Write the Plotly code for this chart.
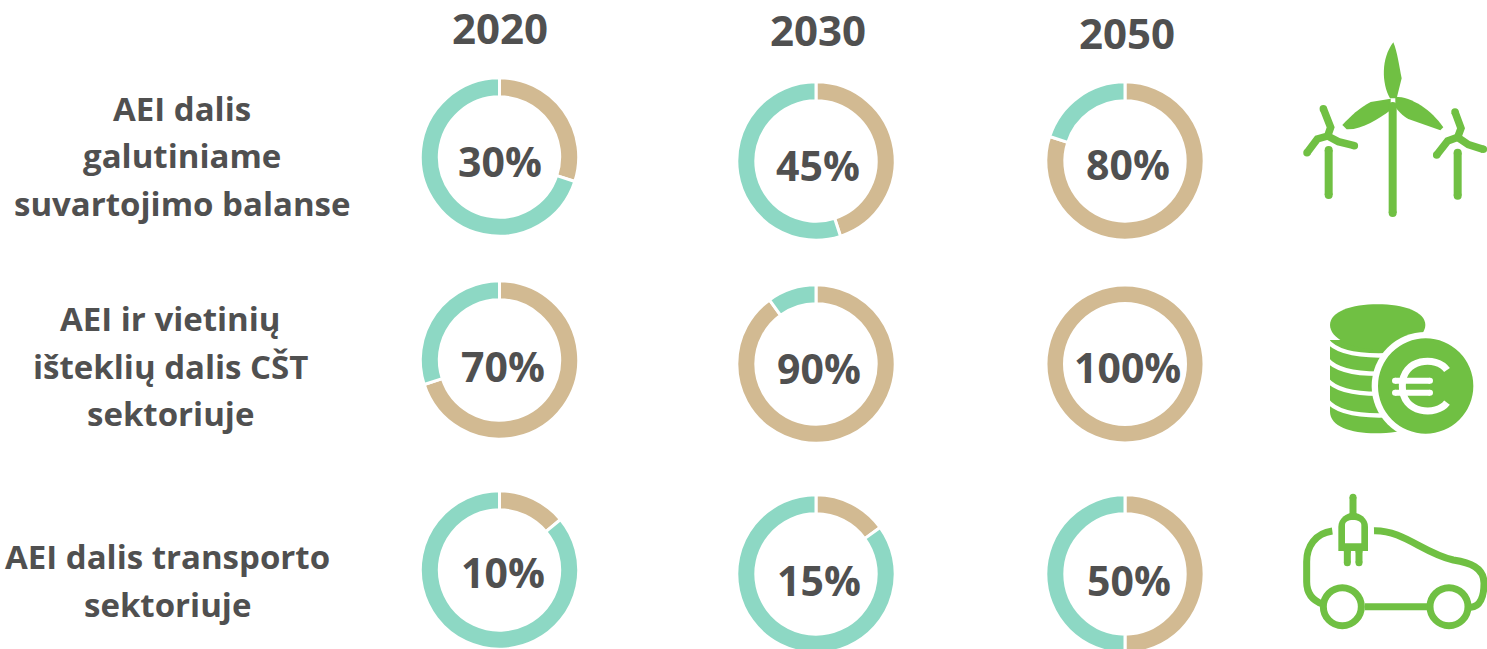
import plotly.graph_objects as go

# ---------- data ----------
years = ["2020", "2030", "2050"]
row_labels = [
    ["AEI dalis", "galutiniame", "suvartojimo balanse"],
    ["AEI ir vietinių", "išteklių dalis CŠT", "sektoriuje"],
    ["AEI dalis transporto", "sektoriuje"],
]
# printed percentages
printed_row1 = [30, 45, 80]
printed_row2 = [70, 90, 100]
printed_row3 = [10, 15, 50]
# arc sizes as drawn (the "10%" ring is drawn with a visibly larger arc)
arcs_row1 = [30, 45, 80]
arcs_row2 = [70, 90, 100]
arcs_row3 = [14, 15, 50]

# ---------- layout helpers ----------
W, H = 1487, 660   # taller than the 649 px window: the bottom rings are cut by the page edge
TEAL, TAN, GREEN, TEXT = "#8DD8C4", "#D2BA92", "#70C043", "#505050"
FONT = "Open Sans"
R = 79.2
centres = [
    [(499.5, 157), (816, 161), (1125, 161)],
    [(499.5, 360), (816, 364), (1125, 364)],
    [(499.5, 570), (816, 574), (1125, 574)],
]
pct_pos = [
    [(499.5, 161), (818, 165), (1128, 164)],
    [(502.5, 366), (818.5, 368), (1127.5, 367)],
    [(502.5, 572), (818.5, 580), (1128.5, 580)],
]
year_pos = [(500, 27), (818, 29), (1127, 32)]
label_pos = [
    [(182, 108), (182, 155), (182, 203)],
    [(170, 318), (170, 366), (170, 413)],
    [(167, 556), (167, 604)],
]

fig = go.Figure()
fig.add_trace(go.Scatter(x=[None], y=[None], showlegend=False, hoverinfo="skip"))

annotations = []
def text(x, y, s, size):
    annotations.append(dict(x=x, y=y, xref="x", yref="y", text=s, showarrow=False,
                            xanchor="center", yanchor="middle",
                            font=dict(family=FONT, size=size, color=TEXT, weight=700)))

for r, (arcs, printed) in enumerate(zip([arcs_row1, arcs_row2, arcs_row3],
                                        [printed_row1, printed_row2, printed_row3])):
    for c, (v, p) in enumerate(zip(arcs, printed)):
        cx, cy = centres[r][c]
        full = v >= 100
        rad = 77.5 if full else R
        fig.add_trace(go.Pie(
            values=[v, 100 - v], labels=["AEI", "Kita"], sort=False, direction="clockwise",
            rotation=0, hole=0.8 if full else 0.76, textinfo="none", hoverinfo="skip", showlegend=False,
            marker=dict(colors=[TAN, TEAL], line=dict(color="white", width=0 if full else 3)),
            domain=dict(x=[(cx - rad) / W, (cx + rad) / W],
                        y=[1 - (cy + rad) / H, 1 - (cy - rad) / H]),
        ))
        text(pct_pos[r][c][0], pct_pos[r][c][1], f"{p}%", 41)

for y, pos in zip(years, year_pos):
    text(pos[0], pos[1], y, 42)
for lines, poss in zip(row_labels, label_pos):
    for s, pos in zip(lines, poss):
        text(pos[0], pos[1], s, 33)

# ---------- icons (zoomed-crop coordinates, 3x) ----------
shapes = []
def pt(ox, oy, x, y):
    return ox + x / 3, oy + y / 3

def path(ox, oy, cmds, fill=None, stroke=None, width=0):
    out = []
    for c in cmds:
        if c == "Z":
            out.append("Z")
        else:
            letter, coords = c[0], c[1:]
            xy = []
            for i in range(0, len(coords), 2):
                px, py = pt(ox, oy, coords[i], coords[i + 1])
                xy.append(f"{px:.2f},{py:.2f}")
            out.append(letter + " " + " ".join(xy))
    shapes.append(dict(type="path", xref="x", yref="y", path=" ".join(out),
                       fillcolor=fill if fill else "rgba(0,0,0,0)",
                       line=dict(color=stroke if stroke else "rgba(0,0,0,0)", width=width)))

def circle(ox, oy, x, y, r, fill=None, stroke=None, width=0):
    cx, cy = pt(ox, oy, x, y)
    rr = r / 3
    shapes.append(dict(type="circle", xref="x", yref="y", x0=cx - rr, x1=cx + rr, y0=cy - rr, y1=cy + rr,
                       fillcolor=fill if fill else "rgba(0,0,0,0)",
                       line=dict(color=stroke if stroke else "rgba(0,0,0,0)", width=width)))

def rline(ox, oy, pts, width, color=GREEN):
    cmds = [("M", pts[0][0], pts[0][1])] + [("L", p[0], p[1]) for p in pts[1:]]
    path(ox, oy, cmds, stroke=color, width=width)
    for p in (pts[0], pts[-1]):
        circle(ox, oy, p[0], p[1], width * 3 / 2, fill=color)

# wind turbines
ox, oy = 1280, 30
path(ox, oy, [("M", 330, 205), ("C", 305, 160, 303, 85, 340, 37), ("C", 352, 65, 358, 110, 365, 145),
              ("L", 350, 205), "Z"], fill=GREEN)
path(ox, oy, [("M", 332, 206), ("L", 272, 216), ("C", 240, 232, 210, 260, 187, 285), ("L", 200, 298),
              ("C", 245, 300, 295, 268, 332, 240), "Z"], fill=GREEN)
path(ox, oy, [("M", 346, 200), ("C", 395, 200, 455, 240, 490, 292), ("L", 481, 301), ("L", 385, 267),
              ("C", 368, 258, 352, 240, 346, 230), "Z"], fill=GREEN)
rline(ox, oy, [(338, 228), (338, 549)], 8)
rline(ox, oy, [(130, 236), (152, 292), (143, 318), (112, 327), (81, 368)], 7.5)
rline(ox, oy, [(143, 318), (175, 335), (223, 347)], 7.5)
rline(ox, oy, [(146, 360), (146, 495)], 8)
rline(ox, oy, [(525, 246), (543, 295), (533, 322), (503, 333), (470, 375)], 7.5)
rline(ox, oy, [(533, 322), (565, 344), (610, 358)], 7.5)
rline(ox, oy, [(533, 368), (533, 497)], 8)

# coins
ox, oy = 1280, 290
path(ox, oy, [("M", 150, 150), ("L", 450, 150), ("L", 450, 430), ("L", 350, 425),
              ("C", 250, 440, 150, 420, 150, 365), "Z"], fill=GREEN)
for y0, y1 in [(150, 195), (207, 250), (268, 310), (330, 375)]:
    path(ox, oy, [("M", 140, y0), ("C", 170, y1 - 5, 250, y1 + 5, 340, y1)], stroke="white", width=4.5)
path(ox, oy, [("M", 150, 105), ("C", 150, 65, 215, 43, 293, 43), ("C", 370, 43, 436, 65, 436, 105),
              ("C", 436, 145, 370, 178, 293, 178), ("C", 215, 178, 150, 145, 150, 105), "Z"], fill=GREEN)
circle(ox, oy, 437, 288, 162, fill="white")
circle(ox, oy, 437, 288, 143, fill=GREEN)
path(ox, oy, [("M", 501, 240), ("C", 470, 195, 365, 205, 367, 288), ("C", 365, 372, 470, 380, 501, 338)],
     stroke="white", width=7)
rline(ox, oy, [(345, 272), (450, 272)], 6, "white")
rline(ox, oy, [(345, 308), (450, 308)], 6, "white")

# car
ox, oy = 1280, 480
CAR = 7
path(ox, oy, [("M", 157, 153), ("C", 105, 160, 80, 200, 80, 245), ("L", 80, 305),
              ("C", 80, 340, 100, 362, 128, 372)], stroke=GREEN, width=CAR)
path(ox, oy, [("M", 282, 152), ("C", 370, 150, 430, 220, 520, 240), ("C", 570, 248, 612, 262, 612, 310),
              ("C", 612, 350, 600, 380, 572, 382)], stroke=GREEN, width=CAR)
circle(ox, oy, 187, 380, 57, stroke=GREEN, width=CAR)
circle(ox, oy, 507, 380, 57, stroke=GREEN, width=CAR)
path(ox, oy, [("M", 254, 380), ("L", 443, 380)], stroke=GREEN, width=CAR)
rline(ox, oy, [(219, 52), (219, 105)], 7)
path(ox, oy, [("M", 175, 213), ("L", 175, 140), ("C", 175, 115, 200, 98, 219, 98),
              ("C", 240, 98, 264, 115, 264, 140), ("L", 264, 213), "Z"], fill=GREEN)
path(ox, oy, [("M", 195, 190), ("L", 195, 135), ("C", 195, 125, 205, 120, 219, 120),
              ("C", 233, 120, 244, 125, 244, 135), ("L", 244, 190), "Z"], fill="white")
rline(ox, oy, [(202, 213), (202, 248)], 7)
rline(ox, oy, [(237, 213), (237, 248)], 7)

fig.update_layout(
    width=W, height=H, autosize=False, margin=dict(l=0, r=0, t=0, b=0),
    paper_bgcolor="white", plot_bgcolor="white", showlegend=False,
    xaxis=dict(visible=False, range=[0, W], fixedrange=True),
    yaxis=dict(visible=False, range=[H, 0], fixedrange=True),
    annotations=annotations, shapes=shapes,
)
fig.write_html("out.html", config=dict(displayModeBar=False),
               post_script="document.body.style.margin='0';document.documentElement.style.overflow='hidden';document.body.style.overflow='hidden';")
